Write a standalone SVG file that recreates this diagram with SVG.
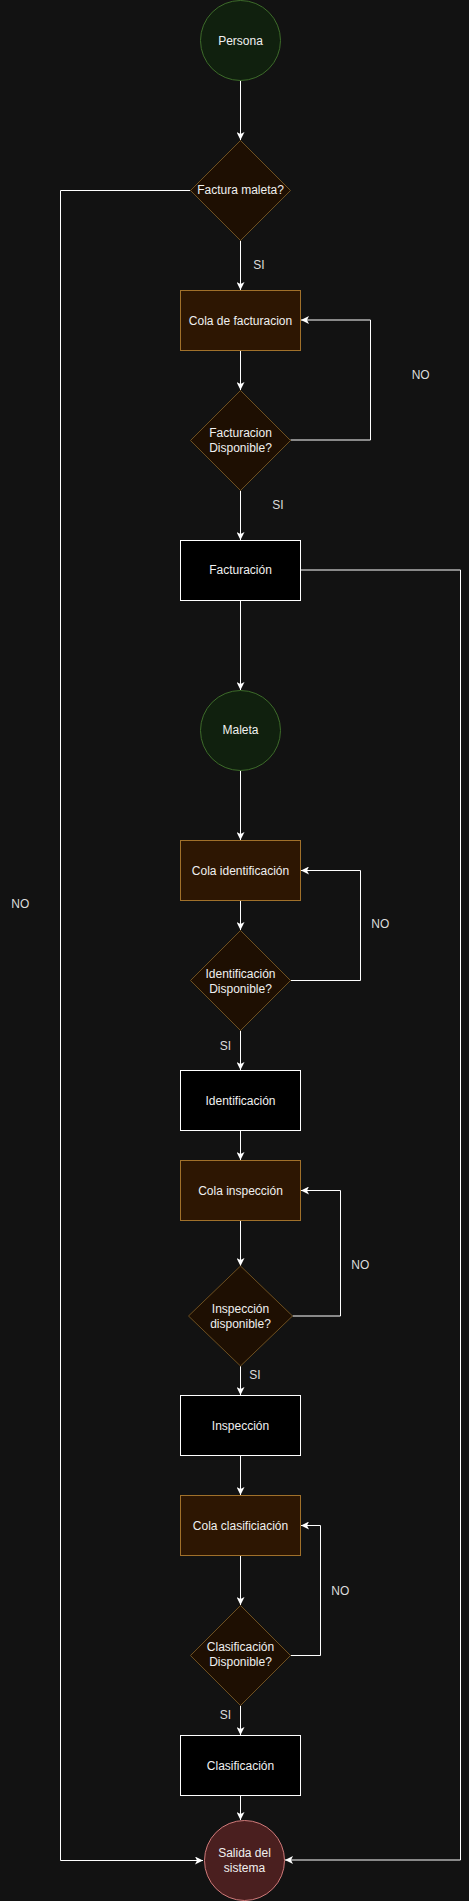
<svg xmlns="http://www.w3.org/2000/svg" width="469" height="1901" viewBox="0 0 469 1901">
<defs>
<style>
text{font-family:"Liberation Sans",Arial,sans-serif;font-size:12px;text-anchor:middle;fill:#f0f0f0}
.lbl{fill:#dcdcdc}
.start{fill:#10200e;stroke:#3d6b2a;stroke-width:1}
.queue{fill:#2d1602;stroke:#a0702a;stroke-width:1}
.dec{fill:#1e0f02;stroke:#6e5020;stroke-width:1}
.proc{fill:#000;stroke:#fff;stroke-width:1}
.end{fill:#4a1f1f;stroke:#d07a7a;stroke-width:1}
.edge{fill:none;stroke:#fff;stroke-width:1;marker-end:url(#arr)}
</style>
<marker id="arr" viewBox="0 0 8 8" refX="8" refY="4" markerWidth="8" markerHeight="8" markerUnits="userSpaceOnUse" orient="auto">
<path d="M0,0 L8,4 L0,8 L2,4 z" fill="#fff"/>
</marker>
</defs>
<rect width="469" height="1901" fill="#121212"/>

<g id="connectors">
<path class="edge" d="M240.5,80.5 V140"/>
<path class="edge" d="M190.5,190.5 H60.5 V1860.5 H203"/>
<path class="edge" d="M240.5,240.5 V290"/>
<path class="edge" d="M240.5,350.5 V390"/>
<path class="edge" d="M290.5,440 H370.5 V320 H301"/>
<path class="edge" d="M240.5,490.5 V540"/>
<path class="edge" d="M300.5,570 H460.5 V1860 H285"/>
<path class="edge" d="M240.5,600.5 V690"/>
<path class="edge" d="M240.5,770.5 V840"/>
<path class="edge" d="M240.5,900.5 V930"/>
<path class="edge" d="M290.5,980.5 H360.5 V870.5 H301"/>
<path class="edge" d="M240.5,1030.5 V1070"/>
<path class="edge" d="M240.5,1130.5 V1160"/>
<path class="edge" d="M240.5,1220.5 V1266"/>
<path class="edge" d="M292.5,1316 H340.5 V1190.5 H301"/>
<path class="edge" d="M240.5,1366 V1395"/>
<path class="edge" d="M240.5,1455.5 V1495"/>
<path class="edge" d="M240.5,1555.5 V1605"/>
<path class="edge" d="M290.5,1655.5 H320.5 V1525.5 H301"/>
<path class="edge" d="M240.5,1705.5 V1735"/>
<path class="edge" d="M240.5,1795.5 V1820"/>
<text class="lbl" x="259" y="269">SI</text>
<text class="lbl" x="420.7" y="379">NO</text>
<text class="lbl" x="278" y="509">SI</text>
<text class="lbl" x="20.3" y="908">NO</text>
<text class="lbl" x="380.3" y="928">NO</text>
<text class="lbl" x="225.3" y="1050">SI</text>
<text class="lbl" x="360.3" y="1269">NO</text>
<text class="lbl" x="255" y="1379">SI</text>
<text class="lbl" x="340.3" y="1595">NO</text>
<text class="lbl" x="225.3" y="1719">SI</text>
</g>

<g id="persona">
<circle class="start" cx="240.5" cy="40.5" r="40"/>
<text x="240.5" y="44.5">Persona</text>
</g>
<g id="factura-maleta">
<polygon class="dec" points="240.5,140.5 290.5,190.5 240.5,240.5 190.5,190.5"/>
<text x="240.5" y="194">Factura maleta?</text>
</g>
<g id="cola-facturacion">
<rect class="queue" x="180.5" y="290.5" width="120" height="60"/>
<text x="240.5" y="324.5">Cola de facturacion</text>
</g>
<g id="facturacion-disponible">
<polygon class="dec" points="240.5,390.5 290.5,440.5 240.5,490.5 190.5,440.5"/>
<text x="240.5" y="437">Facturacion</text>
<text x="240.5" y="452">Disponible?</text>
</g>
<g id="facturacion">
<rect class="proc" x="180.5" y="540.5" width="120" height="60"/>
<text x="240.5" y="574">Facturación</text>
</g>
<g id="maleta">
<circle class="start" cx="240.5" cy="730.5" r="40"/>
<text x="240.5" y="734">Maleta</text>
</g>
<g id="cola-identificacion">
<rect class="queue" x="180.5" y="840.5" width="120" height="60"/>
<text x="240.5" y="875">Cola identificación</text>
</g>
<g id="identificacion-disponible">
<polygon class="dec" points="240.5,930.5 290.5,980.5 240.5,1030.5 190.5,980.5"/>
<text x="240.5" y="978">Identificación</text>
<text x="240.5" y="993">Disponible?</text>
</g>
<g id="identificacion">
<rect class="proc" x="180.5" y="1070.5" width="120" height="60"/>
<text x="240.5" y="1105">Identificación</text>
</g>
<g id="cola-inspeccion">
<rect class="queue" x="180.5" y="1160.5" width="120" height="60"/>
<text x="240.5" y="1195">Cola inspección</text>
</g>
<g id="inspeccion-disponible">
<polygon class="dec" points="240.5,1266 292.5,1316 240.5,1366 188.5,1316"/>
<text x="240.5" y="1313">Inspección</text>
<text x="240.5" y="1328">disponible?</text>
</g>
<g id="inspeccion">
<rect class="proc" x="180.5" y="1395.5" width="120" height="60"/>
<text x="240.5" y="1430">Inspección</text>
</g>
<g id="cola-clasificacion">
<rect class="queue" x="180.5" y="1495.5" width="120" height="60"/>
<text x="240.5" y="1530">Cola clasificiación</text>
</g>
<g id="clasificacion-disponible">
<polygon class="dec" points="240.5,1605.5 290.5,1655.5 240.5,1705.5 190.5,1655.5"/>
<text x="240.5" y="1651">Clasificación</text>
<text x="240.5" y="1666">Disponible?</text>
</g>
<g id="clasificacion">
<rect class="proc" x="180.5" y="1735.5" width="120" height="60"/>
<text x="240.5" y="1770">Clasificación</text>
</g>
<g id="salida">
<circle class="end" cx="244.5" cy="1860.5" r="40"/>
<text x="244.5" y="1857">Salida del</text>
<text x="244.5" y="1872">sistema</text>
</g>
</svg>
